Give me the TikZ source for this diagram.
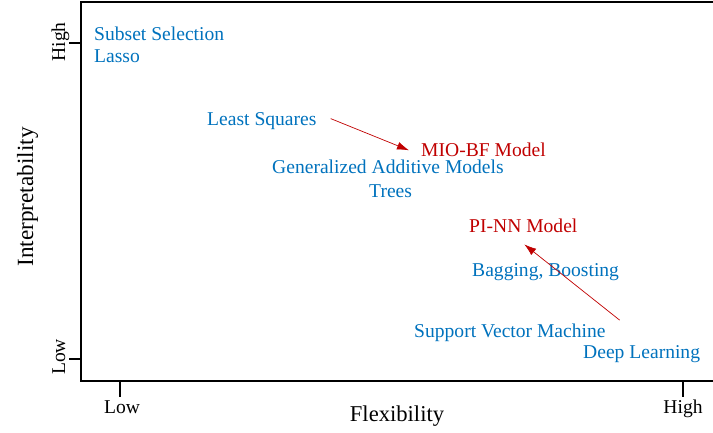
\documentclass[tikz,border=0pt]{standalone}
\usepackage{fontspec}
\setmainfont{Liberation Serif}
\usetikzlibrary{arrows.meta}
\definecolor{mblue}{RGB}{0,114,189}
\definecolor{mred}{RGB}{192,0,0}

\begin{document}
\begin{tikzpicture}[x=0.03cm,y=-0.03cm,>={Latex[length=3.6mm,width=2.4mm]},
  method/.style={text=mblue,inner sep=0pt,anchor=base west,font=\fontsize{16.7}{20}\selectfont},
  model/.style={method,text=mred},
  ticklab/.style={inner sep=0pt,anchor=base,font=\fontsize{16.7}{20}\selectfont},
  axlab/.style={inner sep=0pt,anchor=base,font=\fontsize{19.3}{23}\selectfont}]

\useasboundingbox (0,0) rectangle (713,433);

%%%%%%%%%%%%%%%%%%%%%%%%%%%%%%%%%%%%%%

\draw [line width=1.5pt] (715,2) -- (81,2) -- (81,381) -- (715,381);

\draw [line width=1.2pt] (69,43) -- (81,43);
\draw [line width=1.2pt] (69,359) -- (81,359);
\draw [line width=1.2pt] (120,381) -- (120,397);
\draw [line width=1.2pt] (683,381) -- (683,397);

\node[ticklab,rotate=90] (yhigh) at (65,42) {High};
\node[ticklab,rotate=90] (ylow) at (65,357) {Low};
\node[ticklab] (xlow) at (122,413) {Low};
\node[ticklab] (xhigh) at (683,413) {High};

\node[axlab] (flex) at (397,421) {Flexibility};
\node[axlab,rotate=90,font=\fontsize{19.8}{23}\selectfont] (interp) at (33,197) {Interpretability};

%%%%%%%%%%%%%%%%%%%%%%%%%%%%%%%%%%%%%%

\node[method] (subset) at (94,41) {Subset Selection};
\node[method] (lasso) at (94,63) {Lasso};
\node[method] (ls) at (207,126) {Least Squares};
\node[method] (gam) at (272,174) {Generalized Additive Models};
\node[method] (trees) at (369,198) {Trees};
\node[method] (bag) at (472,276) {Bagging, Boosting};
\node[method] (svm) at (414,337) {Support Vector Machine};
\node[method] (deep) at (583,358) {Deep Learning};

\node[model] (mio) at (421,157) {MIO-BF Model};
\node[model] (pinn) at (469,233) {PI-NN Model};

%%%%%%%%%%%%%%%%%%%%%%%%%%%%%%%%%%%%%%

\draw[->,mred,line width=0.6pt] ([shift={(14,-3)}]ls.east) -- ([shift={(-12,0)}]mio.west);
\draw[->,mred,line width=0.6pt] ([shift={(14,-3)}]svm.north east) -- ([shift={(1,11)}]pinn.south);

\end{tikzpicture}
\end{document}
